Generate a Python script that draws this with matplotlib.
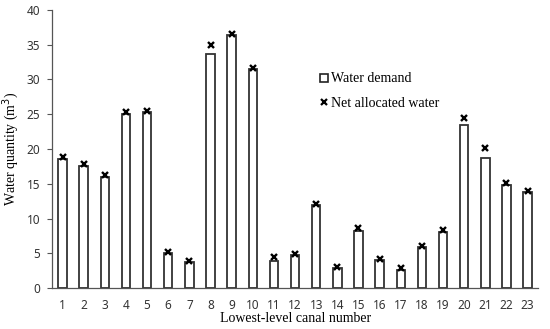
import matplotlib
matplotlib.use('Agg')
import matplotlib.pyplot as plt
from matplotlib.lines import Line2D
import numpy as np

canals = list(range(1, 24))
demand = [18.5, 17.6, 16.0, 25.1, 25.3, 5.1, 3.7, 33.6, 36.4, 31.5, 3.9, 4.8,
          12.0, 2.9, 8.2, 4.1, 2.6, 5.9, 8.1, 23.4, 18.7, 14.9, 13.8]
allocated = [18.9, 17.8, 16.3, 25.3, 25.5, 5.2, 3.9, 35.0, 36.5, 31.6, 4.5, 4.9,
             12.1, 3.1, 8.6, 4.2, 2.9, 6.0, 8.3, 24.5, 20.2, 15.1, 14.0]

serif = 'Liberation Serif'
sans = 'Noto Sans'

fig = plt.figure(figsize=(5.5, 3.29), dpi=100)
ax = fig.add_axes([0.0945, 0.124, 0.884, 0.846])

ax.bar(canals, demand, width=0.4, color='white', edgecolor='#333333', linewidth=1.3, zorder=2)
ax.plot(canals, allocated, linestyle='none', marker='x', markersize=4.2,
        markeredgewidth=1.7, color='black', zorder=3)

ax.set_xlim(0.5, 23.5)
ax.set_ylim(0, 40)
ax.set_xticks(canals)
ax.set_yticks(range(0, 41, 5))
for s in ['top', 'right']:
    ax.spines[s].set_visible(False)
for s in ['left', 'bottom']:
    ax.spines[s].set_color('#555555')
    ax.spines[s].set_linewidth(0.9)
ax.tick_params(axis='y', direction='out', length=3.5, color='#555555', labelsize=8.5, pad=5)
ax.tick_params(axis='x', direction='in', length=2, color='#555555', labelsize=8.5, pad=8)
for lab in ax.get_xticklabels() + ax.get_yticklabels():
    lab.set_fontfamily(sans)
    lab.set_color('#333333')

ax.set_ylabel('Water quantity (m$^3$)', fontfamily=serif, fontsize=10, labelpad=4)
ax.set_xlabel('Lowest-level canal number', fontfamily=serif, fontsize=10, labelpad=0)

handles = [Line2D([], [], linestyle='none', marker='s', markersize=6, markerfacecolor='white',
                  markeredgecolor='#222222', markeredgewidth=1.2),
           Line2D([], [], linestyle='none', marker='x', markersize=4, markeredgewidth=1.6,
                  color='black')]
ax.legend(handles, ['Water demand', 'Net allocated water'], loc='upper left',
          bbox_to_anchor=(0.54, 0.795), frameon=False, prop={'family': serif, 'size': 10},
          handlelength=0.5, handletextpad=0.3, labelspacing=0.85, borderaxespad=0)

fig.savefig('out.png', dpi=100)
